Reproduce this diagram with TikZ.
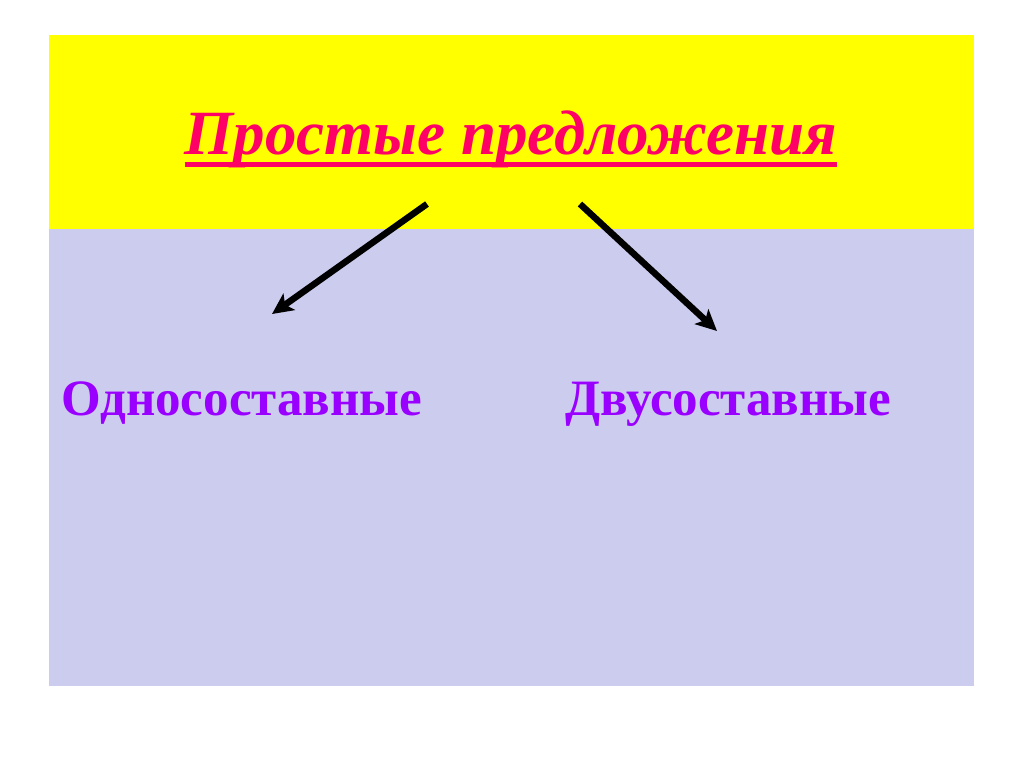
\documentclass[tikz,border=0pt]{standalone}
\usepackage{fontspec}
\setmainfont{Liberation Serif}
\usetikzlibrary{arrows.meta}
\definecolor{bgyellow}{RGB}{255,255,0}
\definecolor{bglav}{RGB}{204,204,238}
\definecolor{titlered}{RGB}{255,0,102}
\definecolor{labviolet}{RGB}{153,0,255}
\tikzset{
  titletext/.style={text=titlered, font=\fontsize{63}{63}\selectfont\bfseries\itshape, inner sep=0pt},
  labeltext/.style={text=labviolet, font=\fontsize{51}{51}\selectfont\bfseries, inner sep=0pt},
  branch/.style={line width=6.5pt, -{Stealth[length=21pt,width=20pt,inset=5pt]}}
}
\begin{document}
\begin{tikzpicture}[x=1pt,y=-1pt]
\useasboundingbox (0,0) rectangle (1024,767);
\fill[white] (0,0) rectangle (1024,767);
\fill[bgyellow] (49,35) rectangle (974,229);
\fill[bglav] (49,229) rectangle (974,686);
\node[titletext, anchor=base] (title) at (511,155) {Простые предложения};
\draw[titlered, line width=5pt] ([yshift=-10pt]title.base west) -- ([yshift=-10pt]title.base east);
\node[labeltext, anchor=base west] (one) at (61,415) {Односоставные};
\node[labeltext, anchor=base west] (two) at (565,415) {Двусоставные};
\coordinate (ls) at (427,204);
\coordinate (le) at (272,314);
\coordinate (rs) at (580,204);
\coordinate (re) at (717,331);
\draw[branch] (ls) -- (le);
\draw[branch] (rs) -- (re);
\end{tikzpicture}
\end{document}
